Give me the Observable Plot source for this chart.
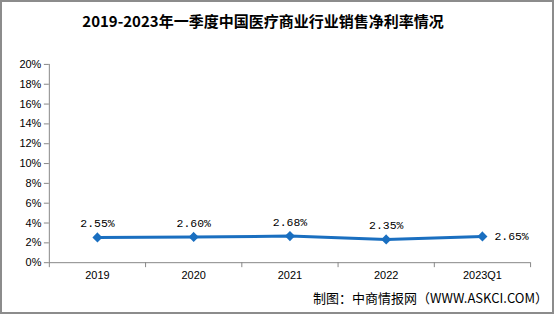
<!DOCTYPE html>
<html><head><meta charset="utf-8">
<script src="https://cdn.jsdelivr.net/npm/d3@7"></script>
<script src="https://cdn.jsdelivr.net/npm/@observablehq/plot@0.6"></script>
<style>
html,body{margin:0;padding:0;background:#fff;}
#wrap{position:relative;width:554px;height:314px;box-sizing:border-box;border:2px solid #8c8c8c;overflow:hidden;background:#fff;}
#title{position:absolute;left:0;top:8px;width:522px;text-align:center;font-family:"Noto Sans CJK SC",serif;font-weight:bold;font-size:15px;color:#000;line-height:22px;}
#chart{position:absolute;left:-2px;top:38px;}
#cap{position:absolute;right:4px;top:286px;font-family:"Noto Sans CJK SC",sans-serif;font-size:13px;color:#000;line-height:20px;}
</style></head>
<body>
<div id="wrap">
<div id="title">2019-2023年一季度中国医疗商业行业销售净利率情况</div>
<div id="chart"></div>
<div id="cap">制图：中商情报网（WWW.ASKCI.COM）</div>
</div>
<script>
const categories = ["2019","2020","2021","2022","2023Q1"];
const values = [2.55, 2.60, 2.68, 2.35, 2.65];
const labels = ["2.55%","2.60%","2.68%","2.35%","2.65%"];
const yTicks = [0,2,4,6,8,10,12,14,16,18,20];

const data = categories.map((c,i)=>({i, c, v: values[i], label: labels[i]}));
const boundaries = d3.range(-0.5, categories.length, 1);
const color = "#1a6fc0";

const plot = Plot.plot({
  width: 554,
  height: 244,
  marginTop: 24,
  marginBottom: 21,
  marginLeft: 49,
  marginRight: 22,
  style: {fontFamily: "'Liberation Sans', sans-serif", fontSize: "11px", color: "#000", background: "transparent"},
  x: {type: "linear", domain: [-0.5, categories.length - 0.5]},
  y: {domain: [0, 20]},
  marks: [
    Plot.axisY({ticks: yTicks, tickFormat: d => d + "%", tickSize: 5, tickPadding: 3, stroke: "#888", label: null, fontSize: 11}),
    Plot.ruleX([-0.5], {stroke: "#888"}),
    Plot.ruleY([0], {stroke: "#888"}),
    Plot.axisX({ticks: boundaries, tickFormat: () => "", tickSize: 5, stroke: "#888", label: null}),
    Plot.axisX({ticks: d3.range(categories.length), tickFormat: i => categories[i], tickSize: 0, tickPadding: 9, label: null, fontSize: 11}),
    Plot.line(data, {x: "i", y: "v", stroke: color, strokeWidth: 3}),
    Plot.dot(data, {x: "i", y: "v", symbol: "diamond2", r: 3.6, fill: color, stroke: color}),
    Plot.text(data.slice(0, -1), {x: "i", y: "v", text: "label", dy: -14, fontFamily: "'Liberation Mono', monospace", fontSize: 11.5, fill: "#000"}),
    Plot.text(data.slice(-1), {x: "i", y: "v", text: "label", dx: 12, textAnchor: "start", fontFamily: "'Liberation Mono', monospace", fontSize: 11.5, fill: "#000"})
  ]
});
document.getElementById("chart").appendChild(plot);
</script>
</body></html>
